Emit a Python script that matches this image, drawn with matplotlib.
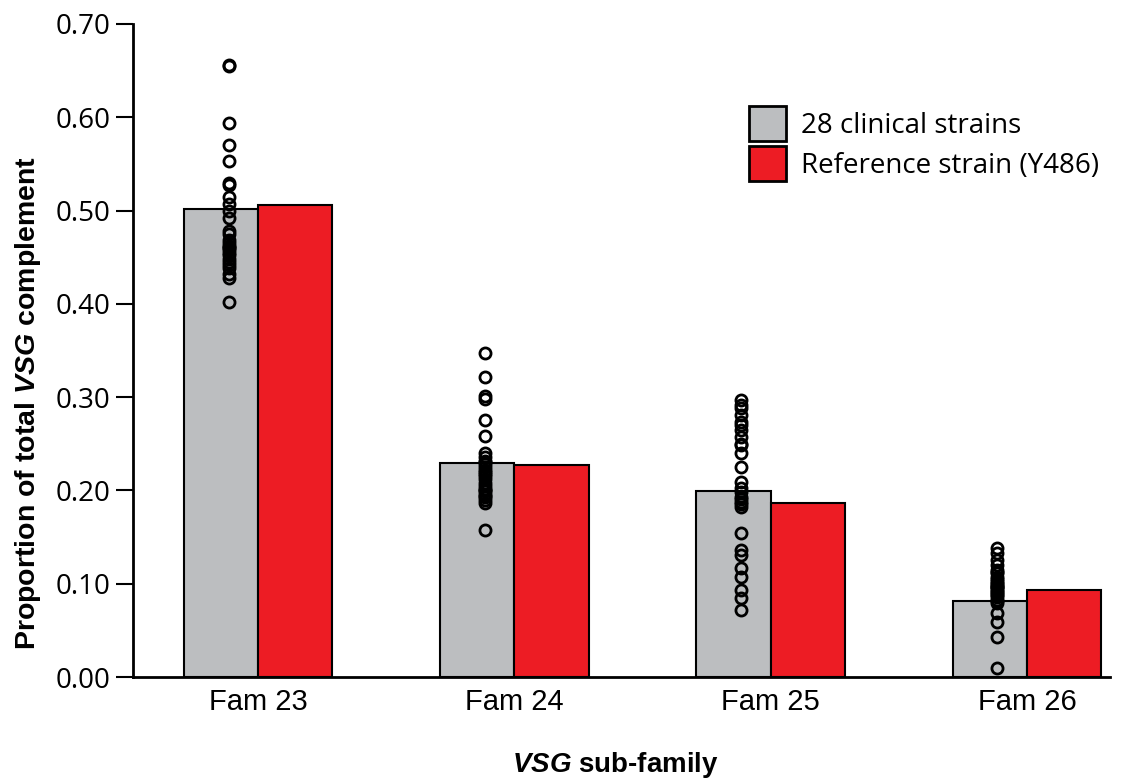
import numpy as np
import matplotlib
matplotlib.use('Agg')
import matplotlib.pyplot as plt
from matplotlib.patches import Patch

# Datos
familias = ['Fam 23', 'Fam 24', 'Fam 25', 'Fam 26']
clinicas = [0.502, 0.229, 0.199, 0.081]
referencia = [0.506, 0.227, 0.186, 0.093]

puntos_23 = [0.656, 0.655, 0.594, 0.570, 0.553, 0.530, 0.527, 0.515, 0.507, 0.500,
             0.492, 0.478, 0.475, 0.468, 0.465, 0.462, 0.460, 0.458, 0.455, 0.452,
             0.448, 0.445, 0.442, 0.438, 0.432, 0.428, 0.402, 0.461]
puntos_24 = [0.347, 0.322, 0.301, 0.298, 0.275, 0.258, 0.240, 0.236, 0.232, 0.228,
             0.225, 0.222, 0.218, 0.215, 0.212, 0.208, 0.205, 0.202, 0.199, 0.196,
             0.193, 0.190, 0.187, 0.158, 0.230, 0.220, 0.200, 0.194]
puntos_25 = [0.297, 0.292, 0.288, 0.281, 0.273, 0.265, 0.257, 0.249, 0.240, 0.225,
             0.209, 0.203, 0.193, 0.188, 0.185, 0.182, 0.154, 0.136, 0.131, 0.117,
             0.107, 0.093, 0.085, 0.072, 0.198, 0.191, 0.250, 0.270]
puntos_26 = [0.138, 0.133, 0.125, 0.115, 0.111, 0.107, 0.103, 0.100, 0.097, 0.094,
             0.091, 0.088, 0.086, 0.079, 0.069, 0.059, 0.043, 0.010, 0.098, 0.092,
             0.105, 0.120, 0.083, 0.096, 0.089, 0.101, 0.113, 0.082]
puntos = [puntos_23, puntos_24, puntos_25, puntos_26]

plt.rcParams['font.family'] = ['Liberation Sans', 'DejaVu Sans']
plt.rcParams['mathtext.fontset'] = 'custom'
plt.rcParams['mathtext.it'] = 'Liberation Sans:bold:italic'
plt.rcParams['mathtext.rm'] = 'Liberation Sans:bold'

gris = '#bcbec0'
rojo = '#ed1c24'
ancho = 0.29

fig = plt.figure(figsize=(11.45, 7.8), dpi=100)
ax = fig.add_axes([133 / 1145, 1 - 677 / 780, (1110 - 133) / 1145, (677 - 24) / 780])

x = np.arange(len(familias))
ax.bar(x - ancho / 2, clinicas, ancho, color=gris, edgecolor='black', linewidth=1.5, zorder=2)
ax.bar(x + ancho / 2, referencia, ancho, color=rojo, edgecolor='black', linewidth=1.5, zorder=2)

for i, p in enumerate(puntos):
    ax.plot([x[i] - ancho / 2 + 0.03] * len(p), p, 'o', markerfacecolor='none',
            markeredgecolor='black', markeredgewidth=2, markersize=8, zorder=3)

ax.set_xlim(-0.488, 3.324)
ax.set_ylim(0, 0.70)
ticks_y = np.arange(0, 0.71, 0.1)
ax.set_yticks(ticks_y)
ax.set_yticklabels(['%.2f' % v for v in ticks_y], fontfamily='Open Sans', fontsize=20)
ax.set_xticks(x)
ax.set_xticklabels(familias, fontsize=21)
ax.tick_params(axis='y', length=12, width=1.5, direction='out', pad=4)
ax.tick_params(axis='x', length=0, pad=8)
ax.spines['top'].set_visible(False)
ax.spines['right'].set_visible(False)
ax.spines['left'].set_linewidth(2)
ax.spines['bottom'].set_linewidth(2)

fig.text(28 / 1145, 1 - 403 / 780, r'Proportion of total $\mathit{VSG}$ complement',
         rotation=90, ha='center', va='center', fontsize=20.5, fontweight='bold')
fig.text(615 / 1145, 1 - 765 / 780, r'$\mathit{VSG}$ sub-family',
         ha='center', va='center', fontsize=20, fontweight='bold')

handles = [Patch(facecolor=gris, edgecolor='black', linewidth=2),
           Patch(facecolor=rojo, edgecolor='black', linewidth=2)]
fig.legend(handles, ['28 clinical strains', 'Reference strain (Y486)'], loc='upper left',
           bbox_to_anchor=(749 / 1145, 1 - 106 / 780), frameon=False,
           prop={'family': 'Open Sans', 'size': 20}, borderpad=0, borderaxespad=0,
           handlelength=1.33, handleheight=1.55, handletextpad=0.55, labelspacing=0.2)

fig.savefig('out.png', dpi=100)
